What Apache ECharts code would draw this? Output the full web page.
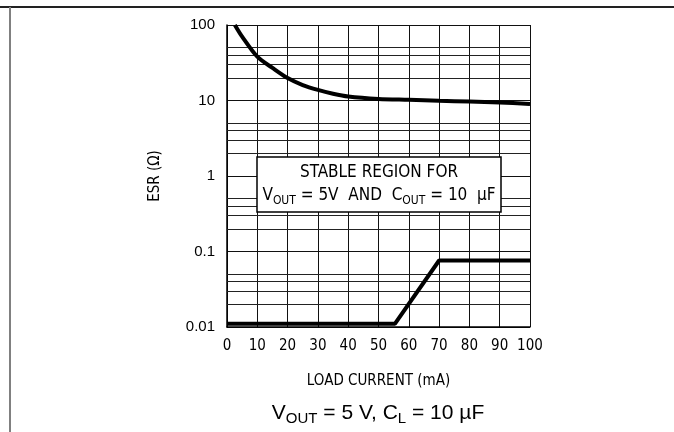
<!DOCTYPE html>
<html>
<head>
<meta charset="utf-8">
<script src="https://cdn.jsdelivr.net/npm/echarts@6/dist/echarts.min.js"></script>
<style>
  html, body { margin: 0; padding: 0; background: #fff; }
  #main { width: 674px; height: 432px; }
</style>
</head>
<body>
<div id="main"></div>
<script>
  // ESR upper limit curve (load current mA, ESR ohm)
  var upperCurrent = [2.6, 5, 10, 15, 20, 25, 30, 35, 40, 50, 60, 70, 80, 90, 100];
  var upperEsr = [100, 70, 38, 27, 19.8, 16, 13.8, 12.3, 11.3, 10.5, 10.2, 9.9, 9.7, 9.4, 9.0];
  // ESR lower limit
  var lowerCurrent = [0, 55.4, 70, 100];
  var lowerEsr = [0.011, 0.011, 0.076, 0.076];
  // tick labels / extra horizontal grid lines
  var xTicks = [0, 10, 20, 30, 40, 50, 60, 70, 80, 90, 100];
  var yTicks = [0.01, 0.1, 1, 10, 100];
  var minorLines = [0.02, 0.03, 0.04, 0.05, 0.2, 0.3, 0.4, 0.5, 2, 3, 4, 5, 20, 30, 40, 50];

  var narrow = "'Liberation Sans Narrow', 'DejaVu Sans Condensed', 'Liberation Sans', sans-serif";
  var arial = "'Liberation Sans', Arial, sans-serif";

  function pairs(xs, ys) {
    return xs.map(function (x, i) { return [x, ys[i]]; });
  }

  var myChart = echarts.init(document.getElementById('main'));
  var option = {
    animation: false,
    grid: { left: 227, right: 144, top: 25, bottom: 105 },
    xAxis: {
      type: 'value',
      min: 0, max: 100, interval: 10,
      name: 'LOAD CURRENT (mA)',
      nameLocation: 'middle',
      nameGap: 47,
      nameTextStyle: { fontFamily: narrow, fontSize: 15, color: '#000' },
      axisLine: { show: true, onZero: false, lineStyle: { color: '#000', width: 1.5 } },
      axisTick: { show: false },
      axisLabel: {
        margin: 12, fontFamily: narrow, fontSize: 15, color: '#000',
        formatter: function (v) { return xTicks.indexOf(v) >= 0 ? String(v) : ''; }
      },
      splitLine: { show: true, lineStyle: { color: '#111', width: 1 } }
    },
    yAxis: {
      type: 'log',
      logBase: 10,
      min: 0.01, max: 100,
      name: 'ESR (\u03a9)',
      nameLocation: 'middle',
      nameGap: 64,
      nameRotate: 90,
      nameTextStyle: { fontFamily: narrow, fontSize: 15, color: '#000' },
      axisLine: { show: true, lineStyle: { color: '#000', width: 1.5 } },
      axisTick: { show: false },
      axisLabel: {
        margin: 12, fontFamily: arial, fontSize: 15, color: '#000',
        formatter: function (v) {
          for (var i = 0; i < yTicks.length; i++) {
            if (Math.abs(v - yTicks[i]) / yTicks[i] < 1e-6) return String(yTicks[i]);
          }
          return '';
        }
      },
      splitLine: { show: true, lineStyle: { color: '#111', width: 1 } }
    },
    series: [
      {
        name: 'upper',
        type: 'line',
        smooth: 0.3,
        symbol: 'none',
        lineStyle: { color: '#000', width: 4 },
        data: pairs(upperCurrent, upperEsr),
        markLine: {
          silent: true,
          symbol: 'none',
          label: { show: false },
          lineStyle: { color: '#222', width: 1, type: 'solid' },
          data: minorLines.map(function (v) { return { yAxis: v }; })
        },
        z: 5
      },
      {
        name: 'lower',
        type: 'line',
        symbol: 'none',
        lineStyle: { color: '#000', width: 4 },
        data: pairs(lowerCurrent, lowerEsr),
        z: 5
      }
    ],
    graphic: [
      { type: 'line', shape: { x1: 0, y1: 7, x2: 674, y2: 7 }, style: { stroke: '#222', lineWidth: 2 } },
      { type: 'line', shape: { x1: 10, y1: 7, x2: 10, y2: 432 }, style: { stroke: '#808080', lineWidth: 2 } },
      {
        type: 'rect', z: 10,
        shape: { x: 257, y: 157, width: 244, height: 55 },
        style: { fill: '#fff', stroke: '#000', lineWidth: 1.5 }
      },
      {
        type: 'text', z: 11,
        x: 379, y: 184,
        style: {
          text: 'STABLE REGION FOR\nV{s|OUT} = 5V  AND  C{s|OUT} = 10  \u03bcF',
          align: 'center', verticalAlign: 'middle',
          fontFamily: narrow, fontSize: 17, lineHeight: 23, fill: '#000',
          rich: {
            s: { fontFamily: narrow, fontSize: 12, lineHeight: 23, padding: [11, 0, 0, 0], fill: '#000' }
          }
        }
      },
      {
        type: 'text',
        x: 378, y: 413,
        style: {
          text: 'V{s|OUT} = 5 V, C{s|L} = 10 \u00b5F',
          align: 'center', verticalAlign: 'middle',
          fontFamily: arial, fontSize: 21, lineHeight: 28, fill: '#000',
          rich: {
            s: { fontFamily: arial, fontSize: 15, lineHeight: 28, padding: [12, 0, 0, 0], fill: '#000' }
          }
        }
      }
    ]
  };
  myChart.setOption(option);
</script>
</body>
</html>
